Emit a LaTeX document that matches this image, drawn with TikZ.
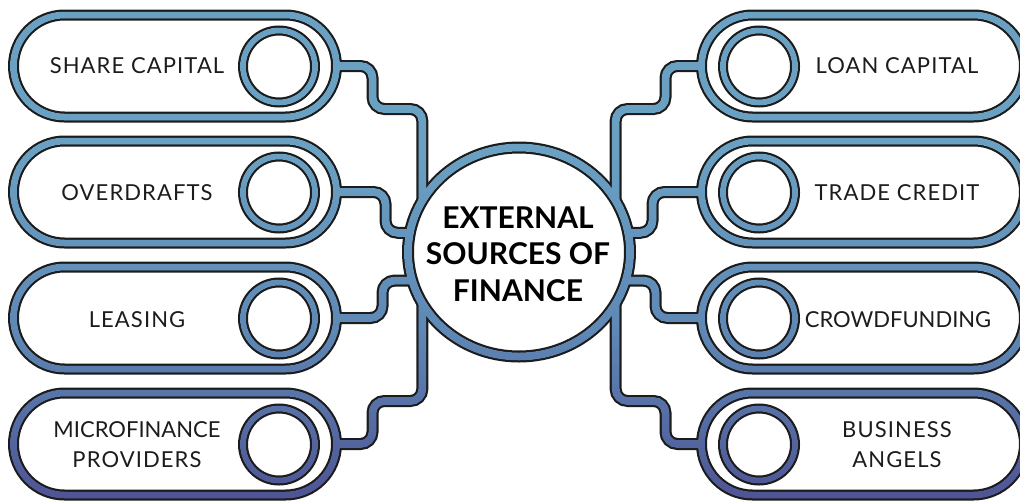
\documentclass[tikz,border=0pt]{standalone}
\usepackage{fontspec}
\setmainfont{Lato}
\newfontfamily\pillfont{Lato}[LetterSpace=5]
\usetikzlibrary{shapes.misc,shapes.geometric,fadings,calc}

\definecolor{bandtop}{HTML}{6AA0C2}
\definecolor{bandmid}{HTML}{5E88B5}
\definecolor{bandbot}{HTML}{4E5394}
\definecolor{inkline}{HTML}{1C1C1C}

\pgfdeclareverticalshading{bandshade}{100bp}{color(0bp)=(bandbot); color(25bp)=(bandbot); color(42bp)=(bandmid); color(60bp)=(bandtop); color(100bp)=(bandtop)}

\tikzset{
  pill/.style={rounded rectangle, minimum width=323pt, minimum height=102pt, inner sep=0pt, outer sep=0pt, draw, pillband},
  ring/.style={circle, minimum size=72pt, inner sep=0pt, outer sep=0pt, draw, ringband},
  hub/.style={ellipse, minimum width=222pt, minimum height=209pt, inner sep=0pt, outer sep=0pt, draw, band},
  link/.style={band, rounded corners=12pt},
  lbl/.style={font=\pillfont\fontsize{22}{30}\selectfont, text=inkline, align=center},
  hubtext/.style={font=\bfseries\fontsize{30}{36.5}\selectfont, align=center},
}

% the bands: drawn once in black (wide), once as fading mask (narrow)
\newcommand{\bands}{%
  \node[pill] (share) at (175,66) {};
  \node[pill] (overdraft) at (175,192) {};
  \node[pill] (leasing) at (175,318) {};
  \node[pill] (micro) at (175,444) {};
  \node[pill] (loan) at (863,66) {};
  \node[pill] (trade) at (863,192) {};
  \node[pill] (crowd) at (863,318) {};
  \node[pill] (angels) at (863,444) {};
  \foreach \p in {share,overdraft,leasing,micro}
    \node[ring] (\p-r) at ($(\p)+(104,0.5)$) {};
  \foreach \p in {loan,trade,crowd,angels}
    \node[ring] (\p-r) at ($(\p)+(-104,0.5)$) {};
  \node[hub] (ext) at (519,252) {};
  % connectors
  \draw[link] (share.east) -- ++(36,0) -- ++(0,43) -| (ext.152);
  \draw[link] (overdraft.east) -- ++(49,0) |- (ext.170);
  \draw[link] (leasing.east) -- ++(46,0) |- (ext.195);
  \draw[link] (micro.east) -- ++(36,0) -- ++(0,-43) -| (ext.208);
  \draw[link] (loan.west) -- ++(-36,0) -- ++(0,43) -| (ext.28);
  \draw[link] (trade.west) -- ++(-49,0) |- (ext.10);
  \draw[link] (crowd.west) -- ++(-46,0) |- (ext.345);
  \draw[link] (angels.west) -- ++(-36,0) -- ++(0,-43) -| (ext.332);
}

\begin{tikzfadingfrompicture}[name=bandfade, x=1pt, y=-1pt, color=transparent!0,
    band/.style={line width=8pt}, pillband/.style={line width=7pt}, ringband/.style={line width=6pt}]
  \useasboundingbox (0,0) rectangle (1020,501);
  \bands
\end{tikzfadingfrompicture}

\begin{document}
\begin{tikzpicture}[x=1pt, y=-1pt]
  \useasboundingbox (0,0) rectangle (1020,501);
  \clip (0,0) rectangle (1020,501);
  \begin{scope}[color=inkline, band/.style={line width=12pt}, pillband/.style={line width=11pt}, ringband/.style={line width=10pt}]
    \bands
  \end{scope}
  \shade[shading=bandshade, path fading=bandfade, fit fading=false,
    fading transform={shift={(510,250.5)}}] (0,0) rectangle (1020,501);

  \node[lbl] (share-t) at ($(share)+(-38,0)$) {SHARE CAPITAL};
  \node[lbl] (overdraft-t) at ($(overdraft)+(-38,1)$) {OVERDRAFTS};
  \node[lbl] (leasing-t) at ($(leasing)+(-38,2)$) {LEASING};
  \node[lbl] (micro-t) at ($(micro)+(-38,1)$) {\addfontfeature{LetterSpace=0}MICROFINANCE\\PROVIDERS};
  \node[lbl] (loan-t) at ($(loan)+(34,0)$) {LOAN CAPITAL};
  \node[lbl] (trade-t) at ($(trade)+(34,1)$) {TRADE CREDIT};
  \node[lbl] (crowd-t) at ($(crowd)+(35,2)$) {\addfontfeature{LetterSpace=0}CROWDFUNDING};
  \node[lbl] (angels-t) at ($(angels)+(34,1)$) {BUSINESS\\ANGELS};
  \node[hubtext] (ext-t) at ($(ext)+(-1,2)$) {EXTERNAL\\SOURCES OF\\FINANCE};
\end{tikzpicture}
\end{document}
